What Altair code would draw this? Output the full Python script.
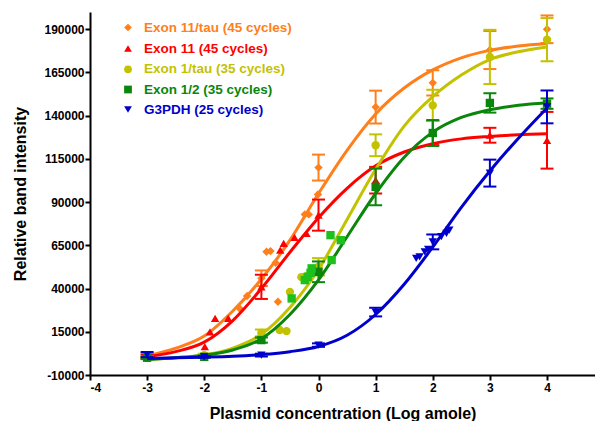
import altair as alt
import pandas as pd

# ---------------- data ----------------
series = ["Exon 11/tau (45 cycles)", "Exon 11 (45 cycles)", "Exon 1/tau (35 cycles)",
          "Exon 1/2 (35 cycles)", "G3PDH (25 cycles)"]
colors = ["#FF7F1A", "#FF0000", "#C2C200", "#0A860A", "#0000CC"]
rep_colors = ["#FF7F1A", "#FF0000", "#C2C200", "#1EC01E", "#0000CC"]
shapes = ["diamond", "triangle-up", "circle", "square", "triangle-down"]

# fitted curves (read at half-unit steps)
curve_x = [-3, -2.5, -2, -1.5, -1, -0.5, 0, 0.5, 1, 1.5, 2, 2.5, 3, 3.5, 4]
curve_orange = [1000, 5500, 12500, 27000, 45500, 68000, 95000, 120000, 141000, 156000, 166500, 173500, 177800, 180300, 181800]
curve_red = [500, 3500, 9000, 21500, 40000, 61000, 81000, 98000, 111000, 119000, 123800, 126600, 128000, 129000, 129500]
curve_yellow = [-1000, 0, 1500, 5500, 13500, 29000, 51000, 80000, 109000, 134000, 151000, 163500, 172500, 177000, 179800]
curve_green = [-1000, 0, 1500, 4500, 11000, 25000, 45000, 70000, 95000, 116000, 130500, 139000, 143500, 146000, 147500]
curve_blue = [-500, 0, 300, 800, 1800, 3500, 6500, 13000, 25000, 42500, 64000, 87000, 108000, 127000, 144500]

# means with error bars
orange_x = [-3, -1, 0, 1, 2, 3, 4]
orange_mean = [1000, 46000, 110000, 145000, 159000, 178000, 190000]
orange_err = [1500, 4500, 7500, 9500, 7300, 11000, 8000]
red_x = [-3, -1, 0, 1, 2, 3, 4]
red_mean = [800, 41000, 82500, 102700, 130000, 128700, 125800]
red_err = [1000, 7000, 9000, 7700, 7000, 4300, 16400]
yellow_x = [-3, -2, -1, 0, 1, 2, 3, 4]
yellow_mean = [0, 1500, 14300, 52600, 122900, 146000, 174000, 184000]
yellow_err = [800, 800, 2000, 5000, 6300, 9000, 15700, 12500]
green_x = [-3, -2, -1, 0, 1, 2, 3, 4]
green_mean = [0, 500, 10200, 49700, 98800, 130000, 147400, 147000]
green_err = [800, 500, 1500, 6000, 10600, 7500, 5600, 3000]
blue_x = [-3, -2, -1, 0, 1, 2, 3, 4]
blue_mean = [1800, 500, 1500, 7300, 26400, 67000, 106800, 145100]
blue_err = [1500, 300, 800, 1000, 2500, 4300, 7800, 9500]

# individual replicate points
orange_rx = [-1.38, -1.25, -0.91, -0.84, -0.75, -0.71, -0.24, -0.17, -0.01]
orange_rv = [28500, 35700, 61300, 61700, 54900, 32400, 82900, 82900, 94400]
red_rx = [-1.99, -1.9, -1.81, -1.58, -0.67, -0.61, -0.42, -0.21]
red_rv = [6400, 15000, 22800, 22800, 62300, 66100, 69600, 72000]
yellow_rx = [-0.68, -0.56, -0.5, -0.3, -0.21]
yellow_rv = [16000, 15400, 38100, 46600, 47200]
green_rx = [-0.47, -0.24, -0.19, -0.14, -0.12, 0.21, 0.23, 0.39]
green_rv = [34300, 44900, 46800, 49100, 51700, 70900, 56500, 68000]
blue_rx = [1.71, 1.77, 1.86, 1.92, 2.15, 2.24, 2.29]
blue_rv = [57400, 58400, 61300, 62700, 70000, 72000, 73800]

x_ticks = [-4, -3, -2, -1, 0, 1, 2, 3, 4]
y_ticks = [-10000, 15000, 40000, 65000, 90000, 115000, 140000, 165000, 190000]
x_max = 4.84  # the reference picture is cropped just before x = 5

curves = [curve_orange, curve_red, curve_yellow, curve_green, curve_blue]
means = [(orange_x, orange_mean, orange_err), (red_x, red_mean, red_err),
         (yellow_x, yellow_mean, yellow_err), (green_x, green_mean, green_err),
         (blue_x, blue_mean, blue_err)]
reps = [(orange_rx, orange_rv), (red_rx, red_rv), (yellow_rx, yellow_rv),
        (green_rx, green_rv), (blue_rx, blue_rv)]

# ---------------- chart ----------------
FONT = "Liberation Sans"
xs = alt.Scale(domain=[-4, x_max], nice=False, zero=False)
ys = alt.Scale(domain=[-10000, 200000], nice=False, zero=False)
xaxis = alt.Axis(values=x_ticks, title="Plasmid concentration (Log amole)", grid=False,
                 labelExpr="datum.value + ''", labelFontWeight="bold", labelFontSize=12,
                 titleFontSize=16, titleFontWeight="bold", titlePadding=12, labelPadding=2)
yaxis = alt.Axis(values=y_ticks, title="Relative band intensity", grid=False,
                 labelExpr="datum.value + ''", labelFontWeight="bold", labelFontSize=12,
                 titleFontSize=16, titleFontWeight="bold", titlePadding=15, labelPadding=1)


def X(f):
    return alt.X(f, type="quantitative", scale=xs, axis=xaxis)


def Y(f):
    return alt.Y(f, type="quantitative", scale=ys, axis=yaxis)


layers = []
for i in range(5):
    col = colors[i]
    cdf = pd.DataFrame({"x": curve_x, "v": curves[i]})
    layers.append(alt.Chart(cdf).mark_line(interpolate="monotone", strokeWidth=3, color=col)
                  .encode(x=X("x"), y=Y("v")))
    mx, mv, me = means[i]
    mdf = pd.DataFrame({"x": mx, "v": mv, "lo": [a - b for a, b in zip(mv, me)],
                        "hi": [a + b for a, b in zip(mv, me)]})
    base = alt.Chart(mdf)
    layers.append(base.mark_rule(strokeWidth=2, color=col)
                  .encode(x=X("x"), y=Y("lo"), y2="hi"))
    layers.append(base.mark_tick(orient="horizontal", size=13, thickness=2, color=col, opacity=1)
                  .encode(x=X("x"), y=Y("lo")))
    layers.append(base.mark_tick(orient="horizontal", size=13, thickness=2, color=col, opacity=1)
                  .encode(x=X("x"), y=Y("hi")))
    layers.append(base.mark_point(shape=shapes[i], filled=True, size=70, color=col, opacity=1)
                  .encode(x=X("x"), y=Y("v")))
    rx, rv = reps[i]
    rdf = pd.DataFrame({"x": rx, "v": rv})
    layers.append(alt.Chart(rdf).mark_point(shape=shapes[i], filled=True, size=70,
                                            color=rep_colors[i], opacity=1)
                  .encode(x=X("x"), y=Y("v")))

# legend drawn as marks
leg_y = [15.5, 36.5, 57.3, 77.5, 97.5]
for i in range(5):
    ldf = pd.DataFrame({"s": [series[i]]})
    layers.append(alt.Chart(ldf).mark_point(shape=shapes[i], filled=True, size=60,
                                            color=colors[i], opacity=1)
                  .encode(x=alt.value(38), y=alt.value(leg_y[i])))
    layers.append(alt.Chart(ldf).mark_text(align="left", baseline="middle", font=FONT,
                                           fontSize=13.5, fontWeight="bold", color=colors[i])
                  .encode(x=alt.value(54), y=alt.value(leg_y[i]), text="s:N"))

chart = alt.layer(*layers).properties(
    width=505, height=363,
    padding={"left": 82, "top": 4, "right": 0, "bottom": 46},
    autosize=alt.AutoSizeParams(type="none"),
).configure_view(stroke=None).configure_axis(
    domainColor="black", domainWidth=2, tickColor="black", tickWidth=2, tickSize=5,
    labelColor="black", titleColor="black", labelFont=FONT, titleFont=FONT,
)

chart.save("out.html", embed_options={"renderer": "svg", "actions": False})
